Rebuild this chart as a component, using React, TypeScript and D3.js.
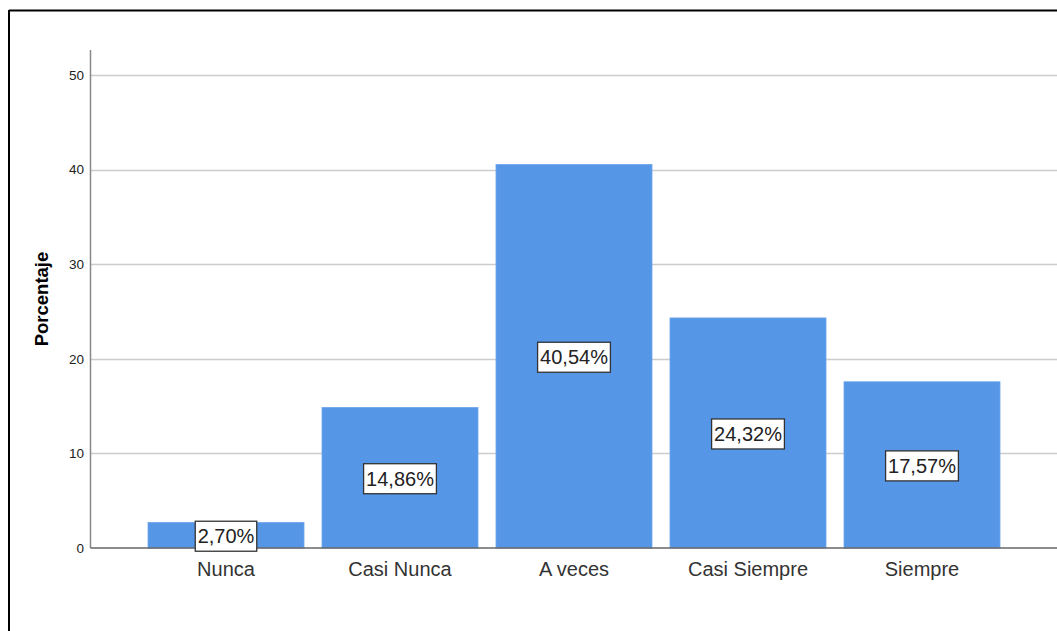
import React from "react";
import * as d3 from "d3";

const categories = ["Nunca", "Casi Nunca", "A veces", "Casi Siempre", "Siempre"];
const values = [2.7, 14.86, 40.54, 24.32, 17.57];
const valueLabels = ["2,70%", "14,86%", "40,54%", "24,32%", "17,57%"];
const yTicks = [0, 10, 20, 30, 40, 50];

const W = 1057;
const H = 631;
const font = "'Liberation Sans', Arial, sans-serif";

export default function App() {
  const x = d3
    .scaleBand<string>()
    .domain(categories)
    .range([139, 1009])
    .paddingInner(0.1034)
    .paddingOuter(0.0517);
  const y = d3.scaleLinear().domain([0, 50]).range([548, 75]);
  const axisX = 90.5;

  return (
    <svg
      width={W}
      height={H}
      style={{ position: "absolute", left: 0, top: 0, background: "#fff" }}
      fontFamily={font}
    >
      <rect x={0} y={0} width={W} height={H} fill="#fff" />
      {/* outer frame */}
      <line x1={9} y1={10.5} x2={W} y2={10.5} stroke="#000" strokeWidth={2} />
      <line x1={9} y1={10} x2={9} y2={H} stroke="#000" strokeWidth={2} />

      {/* gridlines */}
      {yTicks.slice(1).map((t) => (
        <line
          key={t}
          x1={axisX}
          x2={W}
          y1={Math.round(y(t)) + 0.5}
          y2={Math.round(y(t)) + 0.5}
          stroke="#cccccc"
          strokeWidth={1.5}
        />
      ))}

      {/* bars */}
      {categories.map((c, i) => (
        <rect
          key={c}
          x={x(c)}
          y={y(values[i])}
          width={x.bandwidth()}
          height={y(0) - y(values[i])}
          fill="#5596e6"
          stroke="#6ea6ec"
          strokeWidth={0.8}
        />
      ))}

      {/* axes */}
      <line x1={axisX} x2={axisX} y1={50} y2={548} stroke="#888" strokeWidth={1.5} />
      <line x1={axisX} x2={W} y1={548} y2={548} stroke="#666" strokeWidth={1.5} />

      {/* y tick labels */}
      {yTicks.map((t) => (
        <text
          key={t}
          x={84}
          y={y(t)}
          dy="0.36em"
          textAnchor="end"
          fontSize={13.5}
          fill="#222"
        >
          {t}
        </text>
      ))}

      {/* y axis title */}
      <text
        transform={`translate(48,299) rotate(-90)`}
        textAnchor="middle"
        fontSize={18.5}
        fontWeight="bold"
        fill="#000"
      >
        Porcentaje
      </text>

      {/* value labels */}
      {categories.map((c, i) => {
        const cx = (x(c) as number) + x.bandwidth() / 2;
        const cy = (y(values[i]) + y(0)) / 2 + 1;
        const label = valueLabels[i];
        const bw = label.length * 11.3 + 5;
        return (
          <g key={c}>
            <rect
              x={cx - bw / 2}
              y={cy - 15}
              width={bw}
              height={30}
              fill="#fff"
              stroke="#333"
              strokeWidth={1.3}
            />
            <text
              x={cx}
              y={cy}
              dy="0.36em"
              textAnchor="middle"
              fontSize={20}
              fill="#222"
            >
              {label}
            </text>
          </g>
        );
      })}

      {/* category labels */}
      {categories.map((c) => (
        <text
          key={c}
          x={(x(c) as number) + x.bandwidth() / 2}
          y={576}
          textAnchor="middle"
          fontSize={20}
          fill="#333"
        >
          {c}
        </text>
      ))}
    </svg>
  );
}
